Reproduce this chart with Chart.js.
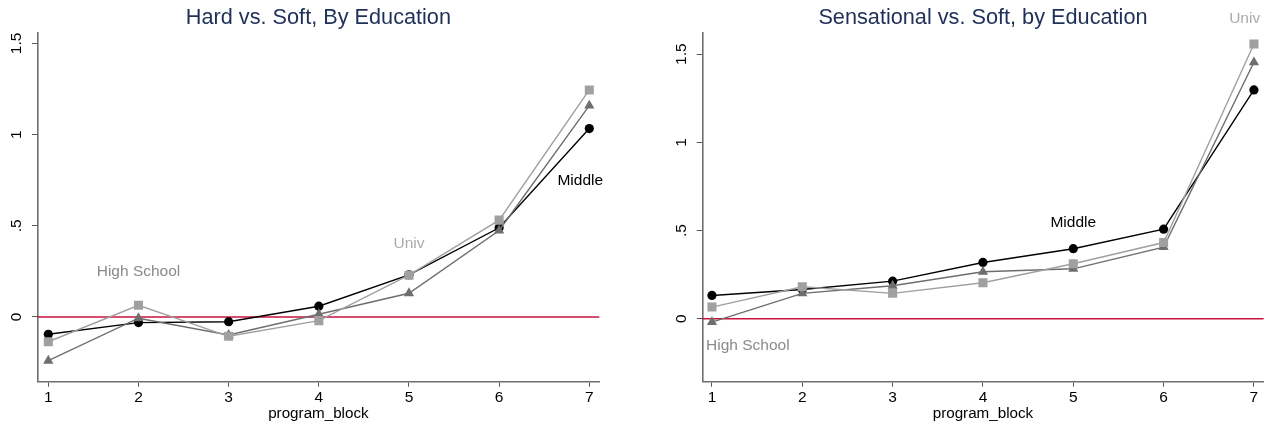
<!DOCTYPE html>
<html>
<head>
<meta charset="utf-8">
<script src="https://cdn.jsdelivr.net/npm/chart.js@4.4.1/dist/chart.umd.min.js"></script>
<style>
  body { margin: 0; background: #fff; width: 1270px; height: 427px; position: relative; overflow: hidden; }
  .panel { position: absolute; top: 0; height: 427px; }
</style>
</head>
<body>
<div class="panel" style="left:0;width:636px"><canvas id="hard"></canvas></div>
<div class="panel" style="left:636px;width:634px"><canvas id="sens"></canvas></div>
<script>
const blocks = [1, 2, 3, 4, 5, 6, 7]
const yTickValues = [0, 0.5, 1, 1.5]
const yTickText = ["0", ".5", "1", "1.5"]

// Hard vs. Soft
const hardMiddle = [-0.095, -0.031, -0.026, 0.059, 0.231, 0.489, 1.033]
const hardUniv = [-0.136, 0.064, -0.106, -0.020, 0.229, 0.531, 1.245]
const hardHigh = [-0.240, -0.007, -0.099, 0.015, 0.130, 0.474, 1.159]
const hardLabels = [
    { text: "High School", x: 2, y: 0.249, color: "#8a8a8a", align: "center" },
    { text: "Univ", x: 5, y: 0.40, color: "#ababab", align: "center" },
    { text: "Middle", x: 6.9, y: 0.746, color: "#000000", align: "center" },
]

// Sensational vs. Soft
const sensMiddle = [0.132, 0.166, 0.213, 0.319, 0.397, 0.508, 1.297]
const sensUniv = [0.066, 0.181, 0.144, 0.204, 0.312, 0.432, 1.558]
const sensHigh = [-0.019, 0.144, 0.187, 0.266, 0.283, 0.406, 1.454]
const sensLabels = [
    { text: "High School", x: 0.934, y: -0.153, color: "#8a8a8a", align: "left" },
    { text: "Middle", x: 5, y: 0.546, color: "#000000", align: "center" },
    { text: "Univ", x: 6.897, y: 1.703, color: "#ababab", align: "center" },
]

const FONT = "'Liberation Sans', Arial, Helvetica, sans-serif"
const AXIS_GRAY = "#6f6f6f"

const toPoints = (vals) => blocks.map((b, i) => ({ x: b, y: vals[i] }))

// zero reference line, title, rotated y labels and text labels
const extrasPlugin = {
    id: "extras",
    beforeDatasetsDraw(chart) {
        const { ctx, chartArea, scales } = chart
        const y0 = scales.y.getPixelForValue(0)
        ctx.save()
        ctx.strokeStyle = "#c8123c"
        ctx.lineWidth = 1.4
        ctx.beginPath()
        ctx.moveTo(chartArea.left, y0)
        ctx.lineTo(chartArea.right, y0)
        ctx.stroke()
        ctx.restore()
    },
    afterDraw(chart, args, opts) {
        const { ctx, chartArea, scales } = chart
        ctx.save()
        // title, centred over the plot region
        ctx.fillStyle = "#1e3058"
        ctx.font = "21.7px " + FONT
        ctx.textAlign = "center"
        ctx.textBaseline = "alphabetic"
        ctx.fillText(opts.title, (chartArea.left + chartArea.right) / 2, 24.3)

        ctx.fillStyle = "#000"
        ctx.font = "15.5px " + FONT
        ctx.textBaseline = "middle"
        yTickValues.forEach((v, i) => {
            const py = scales.y.getPixelForValue(v)
            ctx.save()
            ctx.translate(chartArea.left - 20.5, py)
            ctx.rotate(-Math.PI / 2)
            ctx.fillText(yTickText[i], 0, 0)
            ctx.restore()
        })
        ctx.font = "15.5px " + FONT
        opts.labels.forEach((l) => {
            ctx.fillStyle = l.color
            ctx.textAlign = l.align
            ctx.fillText(l.text, scales.x.getPixelForValue(l.x), scales.y.getPixelForValue(l.y))
        })
        ctx.restore()
    },
}

function makeChart(id, title, middle, univ, high, labels, xr, yr, pad) {
    new Chart(document.getElementById(id), {
        type: "line",
        data: {
            datasets: [
                {
                    label: "Univ",
                    data: toPoints(univ),
                    borderColor: "#a0a0a0",
                    backgroundColor: "#a0a0a0",
                    borderWidth: 1.4,
                    pointStyle: "rect",
                    pointRadius: 6.4,
                    pointBorderWidth: 0,
                },
                {
                    label: "High School",
                    data: toPoints(high),
                    borderColor: "#6e6e6e",
                    backgroundColor: "#6e6e6e",
                    borderWidth: 1.4,
                    pointStyle: "triangle",
                    pointRadius: 5.9,
                    pointBorderWidth: 0,
                },
                {
                    label: "Middle",
                    data: toPoints(middle),
                    borderColor: "#000000",
                    backgroundColor: "#000000",
                    borderWidth: 1.4,
                    pointStyle: "circle",
                    pointRadius: 4.6,
                    pointBorderWidth: 0,
                },
            ],
        },
        options: {
            responsive: true,
            maintainAspectRatio: false,
            animation: false,
            layout: { padding: pad },
            plugins: {
                legend: { display: false },
                tooltip: { enabled: false },
                title: { display: false },
                extras: { labels: labels, title: title },
            },
            scales: {
                x: {
                    type: "linear",
                    min: xr[0],
                    max: xr[1],
                    afterBuildTicks: (s) => { s.ticks = blocks.map((v) => ({ value: v })) },
                    afterFit: (s) => { s.height = 45.3 },
                    grid: { display: true, drawOnChartArea: false, drawTicks: true, tickLength: 5, color: "#555", lineWidth: 1 },
                    border: { color: AXIS_GRAY, width: 1.6 },
                    ticks: { color: "#000", padding: 2, font: { family: FONT, size: 15.5 }, maxRotation: 0 },
                    title: {
                        display: true,
                        text: "program_block",
                        color: "#000",
                        font: { family: FONT, size: 15.2 },
                        padding: { top: 0, bottom: 4.3 },
                    },
                },
                y: {
                    type: "linear",
                    min: yr[0],
                    max: yr[1],
                    afterBuildTicks: (s) => { s.ticks = yTickValues.map((v) => ({ value: v })) },
                    afterFit: (s) => { s.width = 37.5 },
                    grid: { display: true, drawOnChartArea: false, drawTicks: true, tickLength: 5.5, color: "#555", lineWidth: 1 },
                    border: { color: AXIS_GRAY, width: 1.6 },
                    ticks: { display: false },
                },
            },
        },
        plugins: [extrasPlugin],
    })
}

makeChart("hard", "Hard vs. Soft, By Education", hardMiddle, hardUniv, hardHigh, hardLabels,
    [0.880, 7.111], [-0.355, 1.557], { left: 0, right: 36.7, top: 33, bottom: 0 })
makeChart("sens", "Sensational vs. Soft, by Education", sensMiddle, sensUniv, sensHigh, sensLabels,
    [0.893, 7.107], [-0.357, 1.62], { left: 28.8, right: 6, top: 33, bottom: 0 })
</script>
</body>
</html>
